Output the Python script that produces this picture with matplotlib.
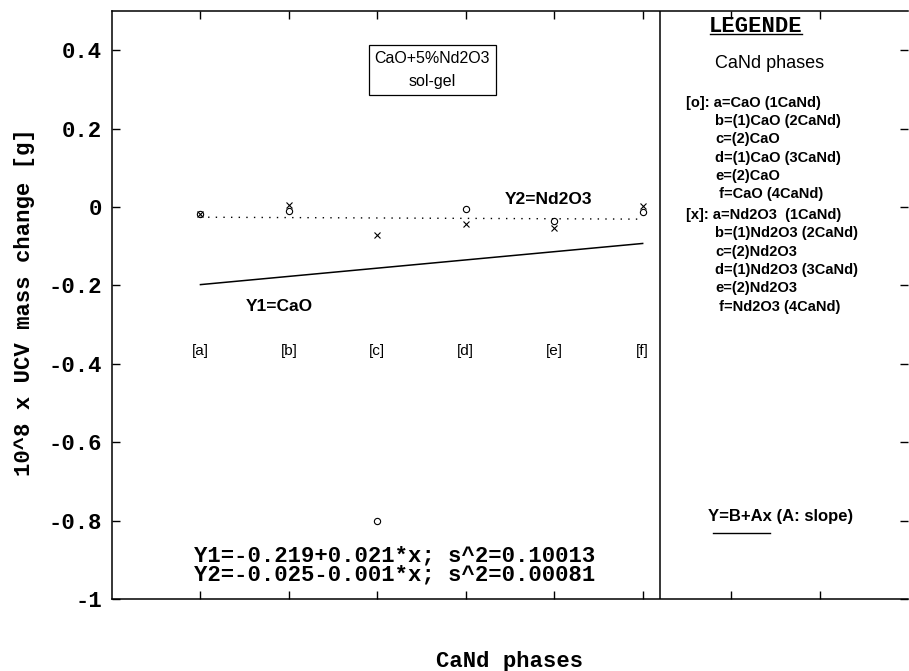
import matplotlib

matplotlib.use("Agg")
import matplotlib.pyplot as plt  # noqa: E402
import numpy as np  # noqa: E402

# phases a..f on the x axis
phases = ["a", "b", "c", "d", "e", "f"]
phase_x = [1, 2, 3, 4, 5, 6]

# [o] CaO and [x] Nd2O3 mass changes
cao_vals = [-0.019, -0.009, -0.800, -0.005, -0.036, -0.013]
nd2o3_vals = [-0.019, 0.004, -0.072, -0.043, -0.053, 0.003]

# linear fits Y = B + A*x as printed on the chart
fit_b = [-0.219, -0.025]
fit_a = [0.021, -0.001]
fit_s2 = ["0.10013", "0.00081"]

y_ticks = [-1, -0.8, -0.6, -0.4, -0.2, 0, 0.2, 0.4]
y_tick_labels = ["-1", "-0.8", "-0.6", "-0.4", "-0.2", "0", "0.2", "0.4"]
x_ticks = [1, 2, 3, 4, 5, 6, 7, 8]

legend_o = ["[o]: a=CaO (1CaNd)", "b=(1)CaO (2CaNd)", "c=(2)CaO",
            "d=(1)CaO (3CaNd)", "e=(2)CaO", " f=CaO (4CaNd)"]
legend_x = ["[x]: a=Nd2O3  (1CaNd)", "b=(1)Nd2O3 (2CaNd)", "c=(2)Nd2O3",
            "d=(1)Nd2O3 (3CaNd)", "e=(2)Nd2O3", " f=Nd2O3 (4CaNd)"]

W, H = 909, 671
MONO = "Liberation Mono"
SANS = "Liberation Sans"
MONO_SIZE = 16
plt.rcParams["font.family"] = SANS


def fxy(px, py):
    """pixel position in the reference -> figure fraction"""
    return px / W, 1 - py / H


fig = plt.figure(figsize=(W / 100, H / 100), dpi=100)
ax = fig.add_axes([112 / W, 1 - 599 / H, 796 / W, 588 / H])
ax.set_xlim(0, 9.0)
ax.set_ylim(-1, 0.5)

# fit lines
xs = np.array(phase_x, dtype=float)
ax.plot(xs, fit_b[0] + fit_a[0] * xs, color="black", lw=1.1)
ax.plot(xs, fit_b[1] + fit_a[1] * xs, color="black", lw=1.0,
        linestyle=(0, (1, 4.5)))

# points
ax.plot(phase_x, cao_vals, linestyle="none", marker="o", ms=4.5,
        mfc="none", mec="black", mew=0.8)
ax.plot(phase_x, nd2o3_vals, linestyle="none", marker="x", ms=5,
        mec="black", mew=0.8)

# divider between plot and legend panel
ax.axvline(6.2, color="black", lw=1.1)

for s in ("left", "top", "bottom"):
    ax.spines[s].set_linewidth(1.1)
ax.spines["right"].set_visible(False)

ax.set_yticks(y_ticks)
ax.set_yticklabels(y_tick_labels, fontfamily=MONO, fontweight="bold",
                   fontsize=MONO_SIZE)
ax.set_xticks(x_ticks)
ax.set_xticklabels([])
ax.tick_params(direction="in", length=6, width=1, top=True, right=True, pad=7)

# phase labels
for x, p in zip(phase_x, phases):
    ax.text(x, -0.368, f"[{p}]", ha="center", va="center", fontsize=11)

ax.text(1.89, -0.253, "Y1=CaO", ha="center", va="center",
        fontsize=12.5, fontweight="bold")
ax.text(4.94, 0.018, "Y2=Nd2O3", ha="center", va="center",
        fontsize=12.5, fontweight="bold")

ax.text(3.62, 0.35, "CaO+5%Nd2O3\nsol-gel", ha="center", va="center",
        fontsize=11.5, linespacing=1.7,
        bbox=dict(boxstyle="square,pad=0.35", fc="white", ec="black", lw=0.9))

# fit equations
for i, yy in enumerate([556, 575]):
    sign = "+" if fit_a[i] >= 0 else "-"
    eq = f"Y{i + 1}={fit_b[i]:.3f}{sign}{abs(fit_a[i]):.3f}*x; s^2={fit_s2[i]}"
    fig.text(*fxy(194, yy), eq, ha="left", va="center",
             fontfamily=MONO, fontweight="bold", fontsize=MONO_SIZE)

# legend panel
fig.text(*fxy(756, 27), "LEGENDE", ha="center", va="center",
         fontfamily=MONO, fontweight="bold", fontsize=MONO_SIZE)
fig.add_artist(plt.Line2D([710 / W, 802 / W], [1 - 34 / H] * 2,
                          color="black", lw=1.0))
fig.text(*fxy(770, 64), "CaNd phases", ha="center", va="center", fontsize=13)

rows_y = [102.7, 121, 139.3, 157.7, 176, 194.3]
for block, off in ((legend_o, 0), (legend_x, 112.3)):
    for j, line in enumerate(block):
        px = 686 if j == 0 else 715
        fig.text(*fxy(px, rows_y[j] + off), line, ha="left", va="center",
                 fontsize=10.5, fontweight="bold")

fig.text(*fxy(708, 517), "Y=B+Ax (A: slope)", ha="left", va="center",
         fontsize=12, fontweight="bold")
fig.add_artist(plt.Line2D([713 / W, 770 / W], [1 - 533 / H] * 2,
                          color="black", lw=1.0))

# axis titles
fig.text(*fxy(25, 302), "10^8 x UCV mass change [g]", rotation=90,
         ha="center", va="center", fontfamily=MONO, fontweight="bold",
         fontsize=MONO_SIZE)
fig.text(*fxy(510, 661), "CaNd phases", ha="center", va="center",
         fontfamily=MONO, fontweight="bold", fontsize=MONO_SIZE)

fig.savefig("out.png", dpi=100)
